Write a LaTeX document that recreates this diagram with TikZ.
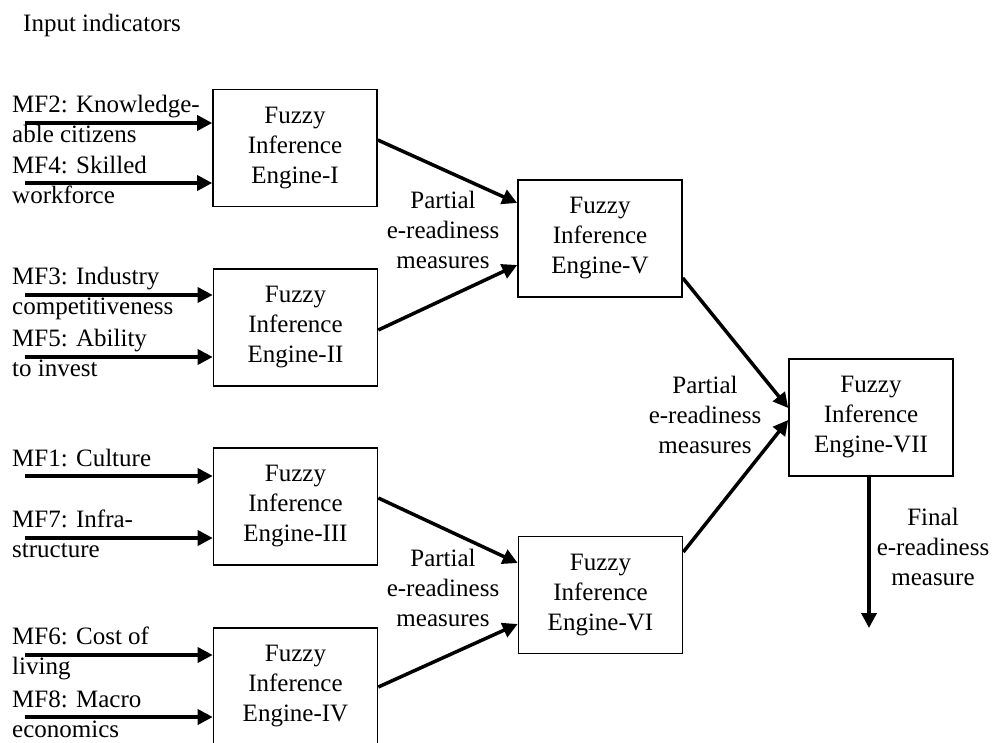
\documentclass[tikz,border=0pt]{standalone}
\usepackage{fontspec}
\setmainfont{Liberation Serif}
\usetikzlibrary{arrows.meta,calc}
\begin{document}
\begin{tikzpicture}[x=1pt,y=-1pt,
  fbox/.style={draw,line width=1.6pt,minimum width=164pt,minimum height=117pt,inner sep=0pt,align=center,font=\fontsize{25}{30}\selectfont},
  lbl/.style={inner sep=0pt,align=left,anchor=base west,font=\fontsize{25}{30}\selectfont},
  clbl/.style={inner sep=0pt,align=center,anchor=base,font=\fontsize{25}{30}\selectfont},
  arr/.style={line width=3.5pt,-{Triangle[length=15pt,width=15pt]}}]
\useasboundingbox (0,0) rectangle (993,742);

% title
\node[lbl] (title) at (23,31) {Input indicators};

% boxes
\node[fbox] (b1) at (295,148) {Fuzzy\\Inference\\Engine-I};
\node[fbox] (b2) at (295.5,327.5) {Fuzzy\\Inference\\Engine-II};
\node[fbox] (b3) at (295.5,506.5) {Fuzzy\\Inference\\Engine-III};
\node[fbox] (b4) at (295.5,686.5) {Fuzzy\\Inference\\Engine-IV};
\node[fbox] (b5) at (600,238.5) {Fuzzy\\Inference\\Engine-V};
\node[fbox] (b6) at (600.5,595) {Fuzzy\\Inference\\Engine-VI};
\node[fbox] (b7) at (871,417.5) {Fuzzy\\Inference\\Engine-VII};

% input labels (anchored at the baseline of the last line)
\node[lbl] (l2) at (12,142) {MF2: Knowledge-\\able citizens};
\node[lbl] (l4) at (12,203) {MF4: Skilled\\workforce};
\node[lbl] (l3) at (12,314) {MF3: Industry\\competitiveness};
\node[lbl] (l5) at (12,376) {MF5: Ability\\to invest};
\node[lbl] (l1) at (12,466) {MF1: Culture};
\node[lbl] (l7) at (12,557) {MF7: Infra-\\structure};
\node[lbl] (l6) at (12,674) {MF6: Cost of\\living};
\node[lbl] (l8) at (12,737) {MF8: Macro\\economics};

% input arrow starts
\coordinate (s2) at (25,123);
\coordinate (s4) at (25,183);
\coordinate (s3) at (25,295);
\coordinate (s5) at (25,357);
\coordinate (s1) at (25,476);
\coordinate (s7) at (25,538);
\coordinate (s6) at (25,655);
\coordinate (s8) at (25,717);

\draw[arr] (s2) -- (s2 -| b1.west);
\draw[arr] (s4) -- (s4 -| b1.west);
\draw[arr] (s3) -- (s3 -| b2.west);
\draw[arr] (s5) -- (s5 -| b2.west);
\draw[arr] (s1) -- (s1 -| b3.west);
\draw[arr] (s7) -- (s7 -| b3.west);
\draw[arr] (s6) -- (s6 -| b4.west);
\draw[arr] (s8) -- (s8 -| b4.west);

% connectors between engines
\draw[arr] ($(b1.east)+(0,-8)$) -- ($(b5.west)+(0,-35.5)$);
\draw[arr] ($(b2.east)+(0,2.5)$) -- ($(b5.west)+(0,26.5)$);
\draw[arr] ($(b3.east)+(0,-8.5)$) -- ($(b6.west)+(0,-32)$);
\draw[arr] ($(b4.east)+(0,0.5)$) -- ($(b6.west)+(0,29)$);
\draw[arr] ($(b5.east)+(0,39.5)$) -- ($(b7.west)+(0,-9.5)$);
\draw[arr] ($(b6.east)+(0,-43)$) -- ($(b7.west)+(0,2.5)$);

% final output
\coordinate (fout) at (869,628);
\draw[arr] (b7.south -| fout) -- (fout);

% connector labels (anchored at the baseline of the last line)
\node[clbl] (p1) at (443,268) {Partial\\e-readiness\\measures};
\node[clbl] (p2) at (443,626) {Partial\\e-readiness\\measures};
\node[clbl] (p3) at (705,453) {Partial\\e-readiness\\measures};
\node[clbl] (fl) at (933,585) {Final\\e-readiness\\measure};
\end{tikzpicture}
\end{document}
